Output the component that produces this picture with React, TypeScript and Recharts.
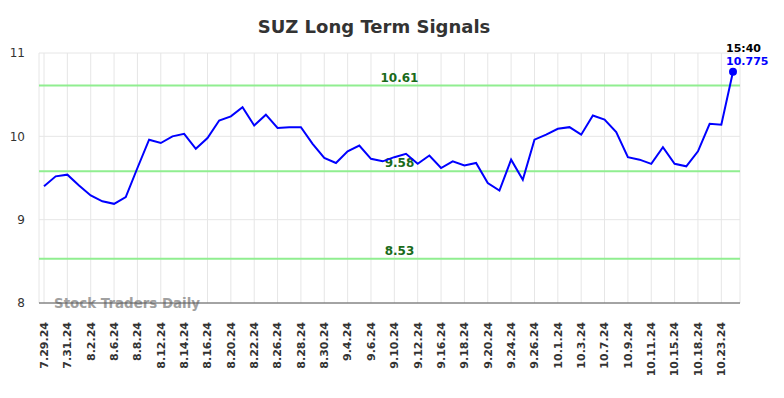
import React from "react";
import {
  LineChart,
  Line,
  XAxis,
  YAxis,
  CartesianGrid,
  ReferenceLine,
} from "recharts";

const dates = [
  "7.29.24", "7.30.24", "7.31.24", "8.1.24", "8.2.24", "8.5.24", "8.6.24", "8.7.24", "8.8.24", "8.9.24",
  "8.12.24", "8.13.24", "8.14.24", "8.15.24", "8.16.24", "8.19.24", "8.20.24", "8.21.24", "8.22.24", "8.23.24",
  "8.26.24", "8.27.24", "8.28.24", "8.29.24", "8.30.24", "9.3.24", "9.4.24", "9.5.24", "9.6.24", "9.9.24",
  "9.10.24", "9.11.24", "9.12.24", "9.13.24", "9.16.24", "9.17.24", "9.18.24", "9.19.24", "9.20.24", "9.23.24",
  "9.24.24", "9.25.24", "9.26.24", "9.27.24", "10.1.24", "10.2.24", "10.3.24", "10.4.24", "10.7.24", "10.8.24",
  "10.9.24", "10.10.24", "10.11.24", "10.14.24", "10.15.24", "10.16.24", "10.18.24", "10.22.24", "10.23.24", "10.24.24",
];

const prices = [
  9.40, 9.52, 9.54, 9.41, 9.29, 9.22, 9.19, 9.27, 9.62, 9.96,
  9.92, 10.00, 10.03, 9.85, 9.98, 10.19, 10.24, 10.35, 10.13, 10.26,
  10.10, 10.11, 10.11, 9.91, 9.74, 9.68, 9.82, 9.89, 9.73, 9.70,
  9.75, 9.79, 9.67, 9.77, 9.62, 9.70, 9.65, 9.68, 9.44, 9.35,
  9.72, 9.48, 9.96, 10.02, 10.09, 10.11, 10.02, 10.25, 10.20, 10.05,
  9.75, 9.72, 9.67, 9.87, 9.67, 9.64, 9.82, 10.15, 10.14, 10.775,
];

const tickLabels = dates.filter((_, i) => i % 2 === 0);
const levels = [10.61, 9.58, 8.53];
const yTicks = [8, 9, 10, 11];
const lastTime = "15:40";
const title = "SUZ Long Term Signals";
const watermark = "Stock Traders Daily";

const data = dates.map((d, i) => ({ date: d, price: prices[i] }));
const lastIndex = data.length - 1;

const FONT = "'DejaVu Sans', sans-serif";

const XTick = (props: any) => {
  const { x, y, payload } = props;
  return (
    <g transform={`translate(${x},${y + 19})`}>
      <text
        transform="rotate(-90)"
        textAnchor="end"
        dy="0.35em"
        fontSize={11}
        fontWeight="bold"
        fontFamily={FONT}
        fill="#333"
      >
        {payload.value}
      </text>
    </g>
  );
};

const renderDot = (props: any) => {
  const { cx, cy, index } = props;
  if (index !== lastIndex) return <g key={`d${index}`} />;
  return (
    <g key={`d${index}`}>
      <circle cx={cx} cy={cy} r={4} fill="#0000ff" />
      <text x={cx - 7} y={cy - 20} fontSize={11} fontWeight="bold" fontFamily={FONT} fill="#000">
        {lastTime}
      </text>
      <text x={cx - 7} y={cy - 7} fontSize={11} fontWeight="bold" fontFamily={FONT} fill="#0000ff">
        {String(prices[lastIndex])}
      </text>
    </g>
  );
};

const levelLabel = (value: number) => (props: any) => {
  const vb = props.viewBox || {};
  return (
    <text
      x={vb.x + vb.width / 2 + 10}
      y={vb.y - 4}
      textAnchor="middle"
      fontSize={12}
      fontWeight="bold"
      fontFamily={FONT}
      fill="#1a6b1a"
    >
      {value.toFixed(2)}
    </text>
  );
};

export default function App() {
  return (
    <div style={{ position: "absolute", left: 0, top: 0, width: 784, height: 398, background: "#fff" }}>
      <LineChart
        width={784}
        height={398}
        data={data}
        margin={{ top: 53, right: 44, bottom: 0, left: 0 }}
      >
        <CartesianGrid stroke="#e6e6e6" strokeWidth={1} />
        <XAxis
          dataKey="date"
          ticks={tickLabels}
          interval={0}
          height={95}
          padding={{ left: 5, right: 7 }}
          tickSize={0}
          tickMargin={0}
          tickLine={false}
          axisLine={{ stroke: "#555", strokeWidth: 1 }}
          tick={<XTick />}
        />
        <YAxis
          domain={[8, 11]}
          ticks={yTicks}
          width={39}
          axisLine={false}
          tickLine={false}
          tickSize={0}
          tickMargin={14}
          tick={{ fontSize: 12, fill: "#333", fontFamily: FONT }}
        />
        {levels.map((v) => (
          <ReferenceLine
            key={v}
            y={v}
            stroke="#90ee90"
            strokeWidth={2}
            label={levelLabel(v)}
          />
        ))}
        <Line
          type="linear"
          dataKey="price"
          stroke="#0000ff"
          strokeWidth={2}
          dot={renderDot}
          activeDot={false}
          isAnimationActive={false}
        />
        <text
          x={374}
          y={33}
          textAnchor="middle"
          fontSize={18}
          fontWeight="bold"
          fontFamily={FONT}
          fill="#333"
        >
          {title}
        </text>
        <text x={54} y={308} fontSize={13.4} fontWeight="bold" fontFamily={FONT} fill="#a0a0a0">
          {watermark}
        </text>
      </LineChart>
    </div>
  );
}
